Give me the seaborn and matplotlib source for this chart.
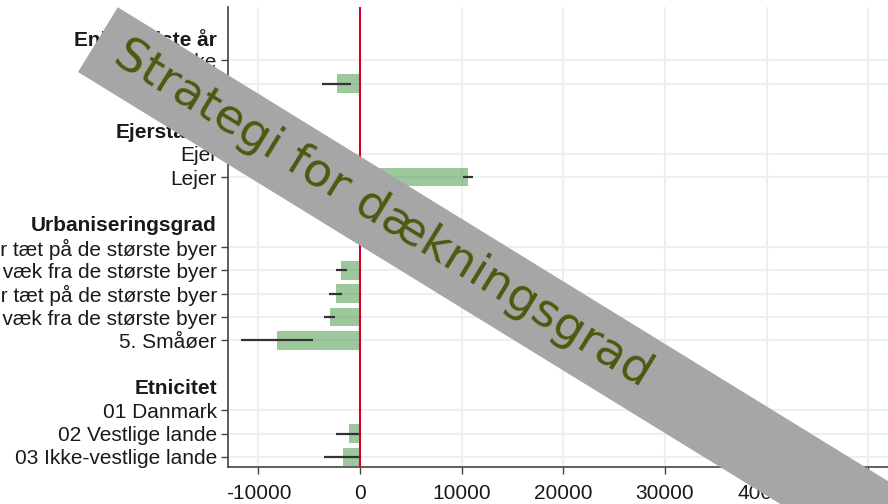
import numpy as np
import pandas as pd
import matplotlib
matplotlib.use("Agg")
import matplotlib.pyplot as plt
import seaborn as sns
from matplotlib.patches import Rectangle
from matplotlib.transforms import IdentityTransform

# data (kroner), first level in each group is the reference
group_names = ["Enlig sidste år", "Ejerstatus", "Urbaniseringsgrad", "Etnicitet"]
group_levels = [
    ["Ikke", "Enlig"],
    ["Ejer", "Lejer"],
    ["1. Byer tæt på de største byer", "2. Byer væk fra de største byer",
     "3. Landdistrikter tæt på de største byer", "4. Landdistrikter væk fra de største byer",
     "5. Småøer"],
    ["01 Danmark", "02 Vestlige lande", "03 Ikke-vestlige lande"],
]
estimates = [
    [0, -2290],
    [0, 10650],
    [0, -1880, -2380, -3000, -8150],
    [0, -1090, -1710],
]
ci_low = [
    [np.nan, -3740],
    [np.nan, 10160],
    [np.nan, -2380, -3040, -3530, -11710],
    [np.nan, -2380, -3530],
]
ci_high = [
    [np.nan, -880],
    [np.nan, 11080],
    [np.nan, -1320, -1780, -2440, -4620],
    [np.nan, 80, 50],
]
x_ticks = [-10000, 0, 10000, 20000, 30000, 40000, 50000]

# build rows: header, levels, blank line
rows = []
slot = 0
for g, name in enumerate(group_names):
    rows.append(dict(pos=slot, label=name, header=True, est=np.nan, lo=np.nan, hi=np.nan))
    slot += 1
    for i, lev in enumerate(group_levels[g]):
        rows.append(dict(pos=slot, label=lev, header=False, est=estimates[g][i],
                         lo=ci_low[g][i], hi=ci_high[g][i]))
        slot += 1
    slot += 1
df = pd.DataFrame(rows)
items = df[~df.header]

sns.set_style("white")
plt.rcParams["font.family"] = ["Liberation Sans", "DejaVu Sans"]
plt.rcParams["axes.unicode_minus"] = False

fig = plt.figure(figsize=(8.88, 5.04), dpi=100)
ax = fig.add_axes([228 / 888, 37 / 504, (909 - 228) / 888, 460 / 504])

sns.barplot(data=items, x="est", y="pos", orient="y", native_scale=True,
            color="#2ca02c", alpha=0.5, width=0.8, errorbar=None,
            linewidth=0, ax=ax, zorder=2)

ci = items.dropna(subset=["lo"])
ax.hlines(ci["pos"], ci["lo"], ci["hi"], color="#333333", lw=1.6, zorder=3)
ax.axvline(0, color="#d6002a", lw=1.5, zorder=4)

ax.set_xlim(-13000, 54000)
ax.set_ylim(18.43, -1.29)
ax.set_xticks(x_ticks)
ax.set_xticklabels([str(t) for t in x_ticks])
ax.set_yticks(df["pos"])
ax.set_yticklabels(df["label"])
ax.set_xlabel("")
ax.set_ylabel("")

ax.grid(True, color="#e9f1f3", lw=1.5)
ax.set_axisbelow(True)
ax.tick_params(axis="both", which="major", length=5, width=1, color="#444444",
               labelsize=15, labelcolor="#1a1a1a", left=True, bottom=True)
ax.tick_params(axis="y", pad=3)
ax.tick_params(axis="x", pad=7)

for tick, is_header in zip(ax.yaxis.get_major_ticks(), df["header"]):
    if is_header:
        tick.tick1line.set_visible(False)
        tick.gridline.set_visible(False)
        tick.label1.set_fontweight("bold")

for side in ["top", "right"]:
    ax.spines[side].set_visible(False)
for side in ["left", "bottom"]:
    ax.spines[side].set_color("#444444")
    ax.spines[side].set_linewidth(1.2)

# diagonal banner across the chart
band = Rectangle((78, 432), 1300, 76, angle=-31.6, transform=IdentityTransform(),
                 facecolor="#a6a6a6", edgecolor="none", zorder=10)
fig.add_artist(band)
fig.text(383, 290, "Strategi for dækningsgrad", transform=IdentityTransform(),
         rotation=-31.6, rotation_mode="anchor", ha="center", va="center",
         fontsize=34, family="DejaVu Sans", color="#4b5a0f", zorder=11)

fig.savefig("out.png", dpi=100)
